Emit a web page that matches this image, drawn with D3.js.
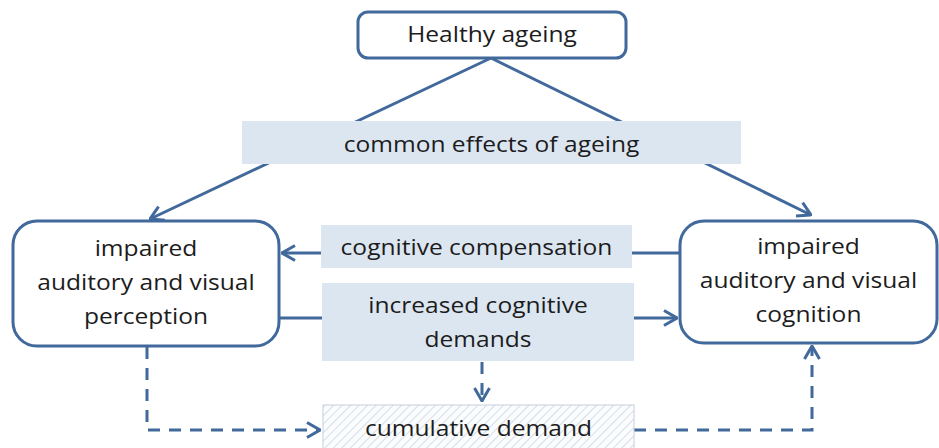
<!DOCTYPE html>
<html>
<head>
<meta charset="utf-8">
<script src="https://cdn.jsdelivr.net/npm/d3@7"></script>
<style>
  body { margin: 0; background: #fff; }
</style>
</head>
<body>
<script>
var width  = 939;
var height = 448;

// node labels (one entry per text line)
var topLabel     = ['Healthy ageing'];
var effectsLabel = ['common effects of ageing'];
var perceptLabel = ['impaired', 'auditory and visual', 'perception'];
var cognitLabel  = ['impaired', 'auditory and visual', 'cognition'];
var compLabel    = ['cognitive compensation'];
var demandLabel  = ['increased cognitive', 'demands'];
var cumulLabel   = ['cumulative demand'];

var blue = '#41699c';
var textStretch = 1.17;   // the source figure is a little stretched sideways

// layout of the boxes: x, y, w, h
var layout = {
    top     : { x: 358, y: 12,  w: 268, h: 46,  kind: 'round', r: 10 }
  , effects : { x: 242, y: 121, w: 499, h: 43,  kind: 'band' }
  , percept : { x: 13,  y: 221, w: 266, h: 125, kind: 'round', r: 24 }
  , cognit  : { x: 680, y: 221, w: 257, h: 122, kind: 'round', r: 24 }
  , comp    : { x: 321, y: 225, w: 311, h: 43,  kind: 'band' }
  , demand  : { x: 322, y: 283, w: 312, h: 78,  kind: 'band' }
  , cumul   : { x: 323, y: 405, w: 311, h: 50,  kind: 'hatch' }
};

var nodes = [
    { id: 'top',     lines: topLabel,     lineY: [35] }
  , { id: 'effects', lines: effectsLabel, lineY: [144.5] }
  , { id: 'percept', lines: perceptLabel, lineY: [248.5, 282.5, 316.5] }
  , { id: 'cognit',  lines: cognitLabel,  lineY: [246.5, 280.5, 314.5] }
  , { id: 'comp',    lines: compLabel,    lineY: [247.5] }
  , { id: 'demand',  lines: demandLabel,  lineY: [305.5, 339.5] }
  , { id: 'cumul',   lines: cumulLabel,   lineY: [428.5] }
];

// connectors as point lists
var solidLinks = [
    [[491, 58], [150, 219]]
  , [[491, 58], [811, 215]]
  , [[680, 253], [282, 253]]
  , [[279, 318], [677, 318]]
];
var dashedLinks = [
    [[482, 362], [482, 401]]
  , [[147, 347], [147, 430], [320, 430]]
  , [[634, 430], [812, 430], [812, 346]]
];

var svg = d3.select('body')
            .append('svg')
            .attr('width', width)
            .attr('height', height);

var defs = svg.append('defs');

defs.append('marker')
    .attr('id', 'arrow')
    .attr('viewBox', '0 0 15 18')
    .attr('refX', 14)
    .attr('refY', 9)
    .attr('markerWidth', 15)
    .attr('markerHeight', 18)
    .attr('markerUnits', 'userSpaceOnUse')
    .attr('orient', 'auto')
    .append('path')
    .attr('d', 'M1,1.5 L14,9 L1,16.5')
    .attr('fill', 'none')
    .attr('stroke', blue)
    .attr('stroke-width', 3);

var hatch = defs.append('pattern')
    .attr('id', 'hatch')
    .attr('patternUnits', 'userSpaceOnUse')
    .attr('width', 6)
    .attr('height', 6)
    .attr('patternTransform', 'rotate(45)');
hatch.append('rect').attr('width', 6).attr('height', 6).attr('fill', '#fbfcfd');
hatch.append('line')
    .attr('x1', 0).attr('y1', 0).attr('x2', 0).attr('y2', 6)
    .attr('stroke', '#cdd5df')
    .attr('stroke-width', 1.6);

var line = d3.line();

// lines go first so bands sit on top
svg.selectAll('path.solid')
   .data(solidLinks)
   .enter()
   .append('path')
   .attr('class', 'solid')
   .attr('d', line)
   .attr('fill', 'none')
   .attr('stroke', blue)
   .attr('stroke-width', 3)
   .attr('marker-end', 'url(#arrow)');

svg.selectAll('path.dashed')
   .data(dashedLinks)
   .enter()
   .append('path')
   .attr('class', 'dashed')
   .attr('d', line)
   .attr('fill', 'none')
   .attr('stroke', blue)
   .attr('stroke-width', 3)
   .attr('stroke-dasharray', '12,9')
   .attr('marker-end', 'url(#arrow)');

svg.selectAll('rect.box')
   .data(nodes)
   .enter()
   .append('rect')
   .attr('class', 'box')
   .attr('x', function(d){ return layout[d.id].x; })
   .attr('y', function(d){ return layout[d.id].y; })
   .attr('width', function(d){ return layout[d.id].w; })
   .attr('height', function(d){ return layout[d.id].h; })
   .attr('rx', function(d){ return layout[d.id].r || 0; })
   .attr('fill', function(d){
       var k = layout[d.id].kind;
       if (k === 'band')  return '#dce6f1';
       if (k === 'hatch') return 'url(#hatch)';
       return '#fff';
   })
   .attr('stroke', function(d){
       var k = layout[d.id].kind;
       if (k === 'round') return blue;
       if (k === 'hatch') return '#c6d0dc';
       return 'none';
   })
   .attr('stroke-width', function(d){ return layout[d.id].kind === 'round' ? 3 : 1; });

var labels = svg.selectAll('g.label')
   .data(nodes)
   .enter()
   .append('g')
   .attr('class', 'label');

labels.selectAll('text')
   .data(function(d){
       var b = layout[d.id];
       return d.lines.map(function(t, i){ return { t: t, x: b.x + b.w / 2, y: d.lineY[i] }; });
   })
   .enter()
   .append('text')
   .attr('transform', function(d){
       return 'translate(' + d.x + ',' + d.y + ') scale(' + textStretch + ',1)';
   })
   .attr('dy', '0.35em')
   .attr('text-anchor', 'middle')
   .attr('font-family', '"Open Sans", sans-serif')
   .attr('font-size', '21px')
   .attr('fill', '#1c1c1c')
   .text(function(d){ return d.t; });
</script>
</body>
</html>
